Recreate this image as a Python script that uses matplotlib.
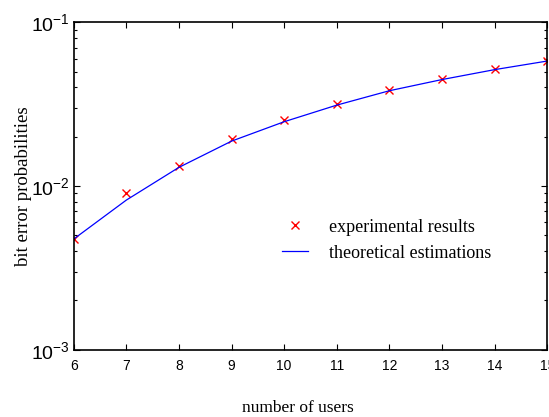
import matplotlib
matplotlib.use('Agg')
import matplotlib.pyplot as plt
from matplotlib.ticker import FixedLocator, LogLocator, NullFormatter

# number of users
users = [6, 7, 8, 9, 10, 11, 12, 13, 14, 15]
# measured bit error probabilities
experimental = [4.74e-3, 9.0e-3, 1.33e-2, 1.94e-2, 2.53e-2, 3.15e-2, 3.86e-2, 4.53e-2, 5.19e-2, 5.83e-2]
# analytical estimate
theoretical = [4.74e-3, 8.2e-3, 1.30e-2, 1.88e-2, 2.47e-2, 3.12e-2, 3.82e-2, 4.47e-2, 5.14e-2, 5.80e-2]

y_ticks = [1e-3, 1e-2, 1e-1]
y_tick_labels = ['$10^{-3}$', '$10^{-2}$', '$10^{-1}$']

plt.rcParams['mathtext.fontset'] = 'custom'
plt.rcParams['mathtext.rm'] = 'Liberation Sans'
plt.rcParams['mathtext.it'] = 'Liberation Sans'

fig = plt.figure(figsize=(5.49, 4.17), dpi=100)
ax = fig.add_axes([0.1342, 0.1614, 0.8627, 0.7851])

ax.plot(users, experimental, linestyle='none', marker='x', color='red',
        markersize=6, markeredgewidth=1.0, label='experimental results')
ax.plot(users, theoretical, color='blue', linewidth=0.9, label='theoretical estimations')

ax.set_yscale('log')
ax.set_xlim(6, 15)
ax.set_ylim(1e-3, 1e-1)
ax.set_xticks(users)
ax.set_xticklabels([str(u) for u in users], family='Liberation Sans', fontsize=10)
ax.yaxis.set_major_locator(FixedLocator(y_ticks))
ax.set_yticklabels(y_tick_labels, fontsize=14)
ax.yaxis.set_minor_locator(LogLocator(base=10, subs=range(2, 10)))
ax.yaxis.set_minor_formatter(NullFormatter())

ax.tick_params(which='both', direction='in', top=True, right=True, width=0.8)
ax.tick_params(which='major', length=4)
ax.tick_params(which='minor', length=2.5)
ax.tick_params(axis='x', pad=7)
ax.tick_params(axis='y', pad=3)
for s in ax.spines.values():
    s.set_linewidth(1.2)

ax.set_xlabel('number of users', family='Liberation Serif', fontsize=12.5)
ax.xaxis.set_label_coords(0.4736, -0.153)
ax.set_ylabel('bit error probabilities', family='Liberation Serif', fontsize=13.5, labelpad=-1)

leg = ax.legend(loc='upper left', bbox_to_anchor=(0.405, 0.45), frameon=False,
                prop={'family': 'Liberation Serif', 'size': 13},
                handlelength=1.45, handletextpad=1.15, labelspacing=0.5)

fig.savefig('out.png', dpi=100)
